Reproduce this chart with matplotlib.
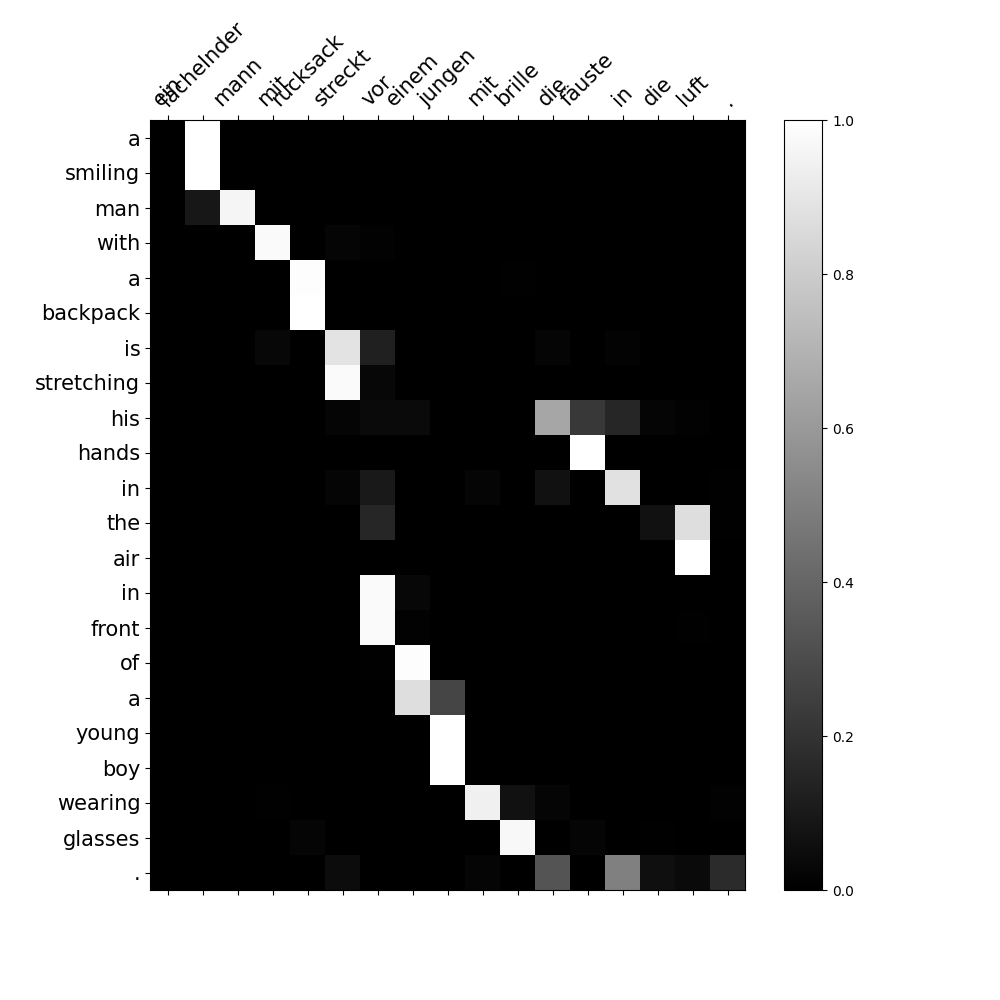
import numpy as np
import matplotlib
matplotlib.use("Agg")
import matplotlib.pyplot as plt
import matplotlib.ticker as ticker

src_words = ["ein", "lächelnder", "mann", "mit", "rucksack", "streckt", "vor",
             "einem", "jungen", "mit", "brille", "die", "fäuste", "in", "die",
             "luft", "."]
out_words = ["a", "smiling", "man", "with", "a", "backpack", "is", "stretching",
             "his", "hands", "in", "the", "air", "in", "front", "of", "a",
             "young", "boy", "wearing", "glasses", "."]

# attention weights, one row per output word (17 source columns)
#               ein  läch mann mit  ruck stre vor  eine jung mit  bril die  fäus in   die  luft .
row_a1      = [0.0, 1.0, 0.0, 0.0, 0.0, 0.0, 0.0, 0.0, 0.0, 0.0, 0.0, 0.0, 0.0, 0.0, 0.0, 0.0, 0.0]
row_smiling = [0.0, 1.0, 0.0, 0.0, 0.0, 0.0, 0.0, 0.0, 0.0, 0.0, 0.0, 0.0, 0.0, 0.0, 0.0, 0.0, 0.0]
row_man     = [0.0, 0.09, 0.96, 0.0, 0.0, 0.0, 0.0, 0.0, 0.0, 0.0, 0.0, 0.0, 0.0, 0.0, 0.0, 0.0, 0.0]
row_with    = [0.0, 0.0, 0.0, 0.98, 0.0, 0.02, 0.01, 0.0, 0.0, 0.0, 0.0, 0.0, 0.0, 0.0, 0.0, 0.0, 0.0]
row_a2      = [0.0, 0.0, 0.0, 0.0, 0.99, 0.0, 0.0, 0.0, 0.0, 0.0, 0.005, 0.0, 0.0, 0.0, 0.0, 0.0, 0.0]
row_backp   = [0.0, 0.0, 0.0, 0.0, 1.0, 0.0, 0.0, 0.0, 0.0, 0.0, 0.0, 0.0, 0.0, 0.0, 0.0, 0.0, 0.0]
row_is      = [0.0, 0.0, 0.0, 0.03, 0.0, 0.89, 0.13, 0.0, 0.0, 0.0, 0.0, 0.02, 0.0, 0.015, 0.0, 0.0, 0.0]
row_stretch = [0.0, 0.0, 0.0, 0.0, 0.0, 0.98, 0.03, 0.0, 0.0, 0.0, 0.0, 0.0, 0.0, 0.0, 0.0, 0.0, 0.0]
row_his     = [0.0, 0.0, 0.0, 0.0, 0.0, 0.02, 0.04, 0.04, 0.0, 0.0, 0.0, 0.65, 0.22, 0.15, 0.02, 0.01, 0.0]
row_hands   = [0.0, 0.0, 0.0, 0.0, 0.0, 0.0, 0.0, 0.0, 0.0, 0.0, 0.0, 0.0, 1.0, 0.0, 0.0, 0.0, 0.0]
row_in1     = [0.0, 0.0, 0.0, 0.0, 0.0, 0.02, 0.1, 0.0, 0.0, 0.02, 0.0, 0.07, 0.0, 0.88, 0.0, 0.0, 0.005]
row_the     = [0.0, 0.0, 0.0, 0.0, 0.0, 0.0, 0.15, 0.0, 0.0, 0.0, 0.0, 0.0, 0.0, 0.0, 0.07, 0.87, 0.005]
row_air     = [0.0, 0.0, 0.0, 0.0, 0.0, 0.0, 0.0, 0.0, 0.0, 0.0, 0.0, 0.0, 0.0, 0.0, 0.0, 1.0, 0.0]
row_in2     = [0.0, 0.0, 0.0, 0.0, 0.0, 0.0, 0.98, 0.03, 0.0, 0.0, 0.0, 0.0, 0.0, 0.0, 0.0, 0.0, 0.0]
row_front   = [0.0, 0.0, 0.0, 0.0, 0.0, 0.0, 0.98, 0.01, 0.0, 0.0, 0.0, 0.0, 0.0, 0.0, 0.0, 0.005, 0.0]
row_of      = [0.0, 0.0, 0.0, 0.0, 0.0, 0.0, 0.005, 0.99, 0.0, 0.0, 0.0, 0.0, 0.0, 0.0, 0.0, 0.0, 0.0]
row_a3      = [0.0, 0.0, 0.0, 0.0, 0.0, 0.0, 0.0, 0.87, 0.27, 0.0, 0.0, 0.0, 0.0, 0.0, 0.0, 0.0, 0.0]
row_young   = [0.0, 0.0, 0.0, 0.0, 0.0, 0.0, 0.0, 0.0, 1.0, 0.0, 0.0, 0.0, 0.0, 0.0, 0.0, 0.0, 0.0]
row_boy     = [0.0, 0.0, 0.0, 0.0, 0.0, 0.0, 0.0, 0.0, 1.0, 0.0, 0.0, 0.0, 0.0, 0.0, 0.0, 0.0, 0.0]
row_wearing = [0.0, 0.0, 0.0, 0.005, 0.0, 0.0, 0.0, 0.0, 0.0, 0.94, 0.07, 0.02, 0.0, 0.0, 0.0, 0.0, 0.01]
row_glasses = [0.0, 0.0, 0.0, 0.0, 0.02, 0.0, 0.0, 0.0, 0.0, 0.0, 0.97, 0.0, 0.02, 0.0, 0.005, 0.0, 0.0]
row_dot     = [0.0, 0.0, 0.0, 0.0, 0.0, 0.05, 0.0, 0.0, 0.0, 0.02, 0.0, 0.33, 0.0, 0.5, 0.06, 0.04, 0.17]

attentions = np.array([row_a1, row_smiling, row_man, row_with, row_a2, row_backp,
                       row_is, row_stretch, row_his, row_hands, row_in1, row_the,
                       row_air, row_in2, row_front, row_of, row_a3, row_young,
                       row_boy, row_wearing, row_glasses, row_dot])

fig = plt.figure(figsize=(10, 10), dpi=100)
ax = fig.add_subplot(111)
cax = ax.matshow(attentions, cmap='gray', vmin=0, vmax=1)
fig.colorbar(cax)

ax.xaxis.set_major_locator(ticker.FixedLocator(np.arange(len(src_words))))
ax.yaxis.set_major_locator(ticker.FixedLocator(np.arange(len(out_words))))
ax.set_xticklabels(src_words, rotation=45, fontsize=15)
ax.set_yticklabels(out_words, fontsize=15)

plt.savefig("out.png")
